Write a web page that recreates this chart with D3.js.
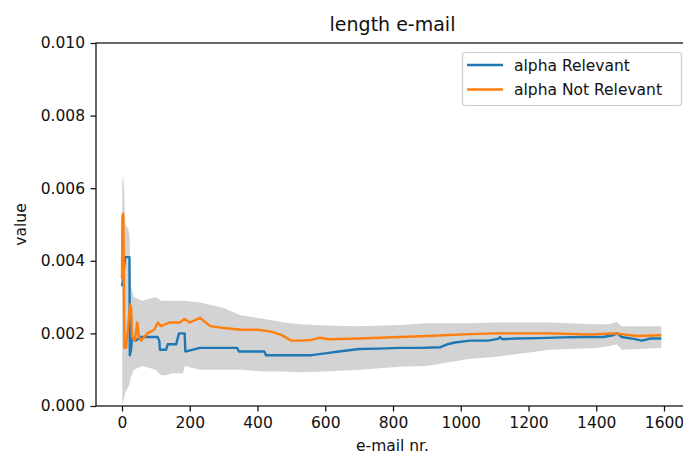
<!DOCTYPE html>
<html>
<head>
<meta charset="utf-8">
<script src="https://cdn.jsdelivr.net/npm/d3@7"></script>
<style>
  body { margin: 0; background: #fff; }
  text { font-family: "DejaVu Sans", sans-serif; fill: #111; }
</style>
</head>
<body>
<svg id="chart" width="683" height="458"></svg>
<script>
// alpha Relevant (blue)
const relNr = [0, 3, 9, 22, 23, 26, 30, 40, 55, 80, 105, 110, 112, 130, 135, 150, 160, 168, 180, 185, 187, 230, 300, 340, 345, 400, 420, 425, 500, 560, 600, 640, 700, 760, 820, 880, 940, 960, 983, 1027, 1080, 1110, 1116, 1122, 1160, 1230, 1300, 1360, 1420, 1450, 1462, 1475, 1510, 1535, 1560, 1592];
const relVal = [0.0033, 0.0035, 0.0041, 0.0041, 0.0014, 0.0015, 0.0019, 0.0018, 0.0019, 0.0019, 0.0019, 0.0018, 0.00155, 0.00155, 0.0017, 0.0017, 0.0017, 0.0020, 0.0020, 0.0020, 0.0015, 0.0016, 0.0016, 0.0016, 0.0015, 0.0015, 0.0015, 0.0014, 0.0014, 0.0014, 0.00145, 0.0015, 0.00157, 0.00158, 0.0016, 0.0016, 0.00162, 0.0017, 0.00175, 0.0018, 0.0018, 0.00185, 0.0019, 0.00184, 0.00186, 0.00187, 0.00189, 0.0019, 0.0019, 0.00195, 0.002, 0.0019, 0.00185, 0.0018, 0.00186, 0.00186];

// alpha Not Relevant (orange)
const notRelNr = [0, 1, 3, 4, 7, 12, 18, 24, 27, 30, 38, 42, 45, 50, 56, 75, 95, 106, 115, 140, 170, 185, 200, 230, 260, 300, 350, 400, 440, 470, 500, 525, 560, 584, 610, 700, 820, 900, 1027, 1100, 1260, 1380, 1455, 1520, 1592];
const notRelVal = [0.0035, 0.0052, 0.0053, 0.0052, 0.0016, 0.0016, 0.0022, 0.0028, 0.0027, 0.0019, 0.0018, 0.0021, 0.0023, 0.0019, 0.0018, 0.002, 0.0021, 0.0023, 0.0022, 0.0023, 0.0023, 0.0024, 0.0023, 0.00243, 0.0022, 0.00215, 0.0021, 0.0021, 0.00205, 0.00196, 0.0018, 0.0018, 0.00182, 0.00188, 0.00184, 0.00186, 0.0019, 0.00193, 0.00198, 0.002, 0.002, 0.00197, 0.002, 0.00193, 0.00195];

// grey spread band
const bandNr = [0, 1, 3, 6, 10, 18, 22, 26, 35, 60, 100, 115, 130, 150, 180, 185, 230, 300, 350, 420, 480, 525, 600, 700, 820, 900, 1027, 1100, 1263, 1400, 1440, 1460, 1475, 1592];
const bandLow = [0.0032, 0.0, 0.0001, 0.0002, 0.0004, 0.0005, 0.0006, 0.0008, 0.001, 0.0011, 0.001, 0.00085, 0.00085, 0.0009, 0.0009, 0.0011, 0.001, 0.001, 0.001, 0.00095, 0.00095, 0.00093, 0.00095, 0.001, 0.00108, 0.0011, 0.0013, 0.00135, 0.00155, 0.0016, 0.00165, 0.0017, 0.00155, 0.0016];
const bandHigh = [0.0037, 0.0063, 0.0063, 0.006, 0.005, 0.0049, 0.0047, 0.0033, 0.003, 0.0029, 0.003, 0.0029, 0.0029, 0.0029, 0.0029, 0.0029, 0.00285, 0.0027, 0.0025, 0.0024, 0.0023, 0.00225, 0.00222, 0.0022, 0.00223, 0.00228, 0.00228, 0.0023, 0.0023, 0.00225, 0.00225, 0.00232, 0.0022, 0.0022];

const xTicks = [0, 200, 400, 600, 800, 1000, 1200, 1400, 1600];
const yTicks = [0, 0.002, 0.004, 0.006, 0.008, 0.010];
const seriesNames = ["alpha Relevant", "alpha Not Relevant"];
const colors = ["#1f77b4", "#ff7f0e"];

const svg = d3.select("#chart");
const margin = {top: 43, right: -6, bottom: 52, left: 96};
const width = 683, height = 458;
const fs = 15.5;

const x = d3.scaleLinear().domain([-76.8, 1673.8]).range([margin.left, width - margin.right]);
const y = d3.scaleLinear().domain([0, 0.010]).range([height - margin.bottom, margin.top]);

svg.append("clipPath").attr("id", "clip")
  .append("rect")
  .attr("x", margin.left).attr("y", margin.top)
  .attr("width", width - margin.right - margin.left)
  .attr("height", height - margin.bottom - margin.top);

const plot = svg.append("g").attr("clip-path", "url(#clip)");

const band = bandNr.map((n, i) => ({n: n, lo: bandLow[i], hi: bandHigh[i]}));
plot.append("path")
  .datum(band)
  .attr("fill", "#d3d3d3")
  .attr("d", d3.area().x(d => x(d.n)).y0(d => y(d.lo)).y1(d => y(d.hi)));

const line = d3.line().x(d => x(d[0])).y(d => y(d[1]));
const series = [
  relNr.map((n, i) => [n, relVal[i]]),
  notRelNr.map((n, i) => [n, notRelVal[i]])
];
series.forEach((s, i) => {
  plot.append("path")
    .datum(s)
    .attr("fill", "none")
    .attr("stroke", colors[i])
    .attr("stroke-width", 2.4)
    .attr("stroke-linejoin", "round")
    .attr("d", line);
});

// axes
const xAxis = svg.append("g")
  .attr("transform", `translate(0,${height - margin.bottom})`)
  .call(d3.axisBottom(x).tickValues(xTicks).tickFormat(d3.format("d")).tickSize(5.5).tickPadding(5));
const yAxis = svg.append("g")
  .attr("transform", `translate(${margin.left},0)`)
  .call(d3.axisLeft(y).tickValues(yTicks).tickFormat(d3.format(".3f")).tickSize(5.5).tickPadding(5.5));
[xAxis, yAxis].forEach(a => {
  a.select(".domain").remove();
  a.selectAll("line").attr("stroke", "#111").attr("stroke-width", 1.26);
  a.selectAll("text").attr("font-size", fs).attr("font-family", "DejaVu Sans").attr("fill", "#111");
});

// frame
svg.append("rect")
  .attr("x", margin.left).attr("y", margin.top)
  .attr("width", width - margin.right - margin.left)
  .attr("height", height - margin.bottom - margin.top)
  .attr("fill", "none").attr("stroke", "#111").attr("stroke-width", 1.26);

// labels
svg.append("text")
  .attr("x", (margin.left + width - margin.right) / 2).attr("y", 31)
  .attr("text-anchor", "middle").attr("font-size", 19)
  .text("length e-mail");
svg.append("text")
  .attr("x", (margin.left + width - margin.right) / 2).attr("y", 451)
  .attr("text-anchor", "middle").attr("font-size", fs)
  .text("e-mail nr.");
svg.append("text")
  .attr("transform", `translate(26,${(margin.top + height - margin.bottom) / 2}) rotate(-90)`)
  .attr("text-anchor", "middle").attr("font-size", fs)
  .text("value");

// legend
const lg = svg.append("g");
lg.append("rect")
  .attr("x", 462.5).attr("y", 52.5).attr("width", 219).attr("height", 53)
  .attr("rx", 3).attr("fill", "#fff").attr("fill-opacity", 0.8)
  .attr("stroke", "#ccc").attr("stroke-width", 1.2);
seriesNames.forEach((name, i) => {
  const ly = 65 + i * 24.5;
  lg.append("line")
    .attr("x1", 467).attr("x2", 503).attr("y1", ly).attr("y2", ly)
    .attr("stroke", colors[i]).attr("stroke-width", 2.4);
  lg.append("text")
    .attr("x", 514).attr("y", ly + 5.5)
    .attr("font-size", fs)
    .text(name);
});
</script>
</body>
</html>
